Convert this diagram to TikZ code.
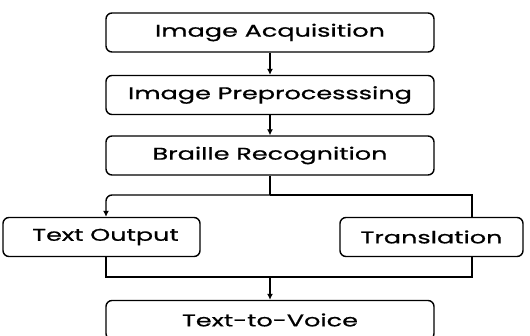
\documentclass[tikz,border=0pt]{standalone}
\usepackage{fontspec}
\setmainfont[FakeStretch=1.5, FakeBold=0.8]{Poppins}
\usetikzlibrary{arrows.meta}

\tikzset{
    stepbox/.style={draw, line width=1.4pt, rounded corners=6pt, minimum height=39pt, inner sep=0pt, font=\fontsize{17}{19}\selectfont},
    link/.style={line width=1.4pt},
    arr/.style={link, -{Latex[length=6pt,width=6pt]}}
}

\begin{document}
\begin{tikzpicture}[x=1pt, y=1pt]
    \useasboundingbox (0,0) rectangle (530,-335);
    % main chain
    \node[stepbox, minimum width=328pt] (acq) at (270,-32.5) {Image Acquisition};
    \node[stepbox, minimum width=328pt] (pre) at (270,-95) {Image Preprocesssing};
    \node[stepbox, minimum width=328pt] (rec) at (270,-155.5) {Braille Recognition};
    \node[stepbox, minimum width=197pt] (txt) at (101.5,-237) {\hspace{8pt}Text Output};
    \node[stepbox, minimum width=183pt] (tra) at (431.5,-237) {Translation};
    \node[stepbox, minimum width=328pt] (tts) at (270,-320) {Text-to-Voice};
    \coordinate (split) at (270,-195);
    \coordinate (merge) at (270,-277);
    \draw[arr] (acq) -- (pre);
    \draw[arr] (pre) -- (rec);
    % branches
    \draw[link] (rec) -- (split);
    \draw[arr, rounded corners=6pt] (split) -| ([xshift=4.5pt]txt.north);
    \draw[link] (split) -| ([xshift=40.5pt]tra.north);
    \draw[link] ([xshift=4.5pt]txt.south) |- (merge);
    \draw[link] ([xshift=40.5pt]tra.south) |- (merge);
    \draw[arr] (merge) -- (tts);
\end{tikzpicture}
\end{document}
